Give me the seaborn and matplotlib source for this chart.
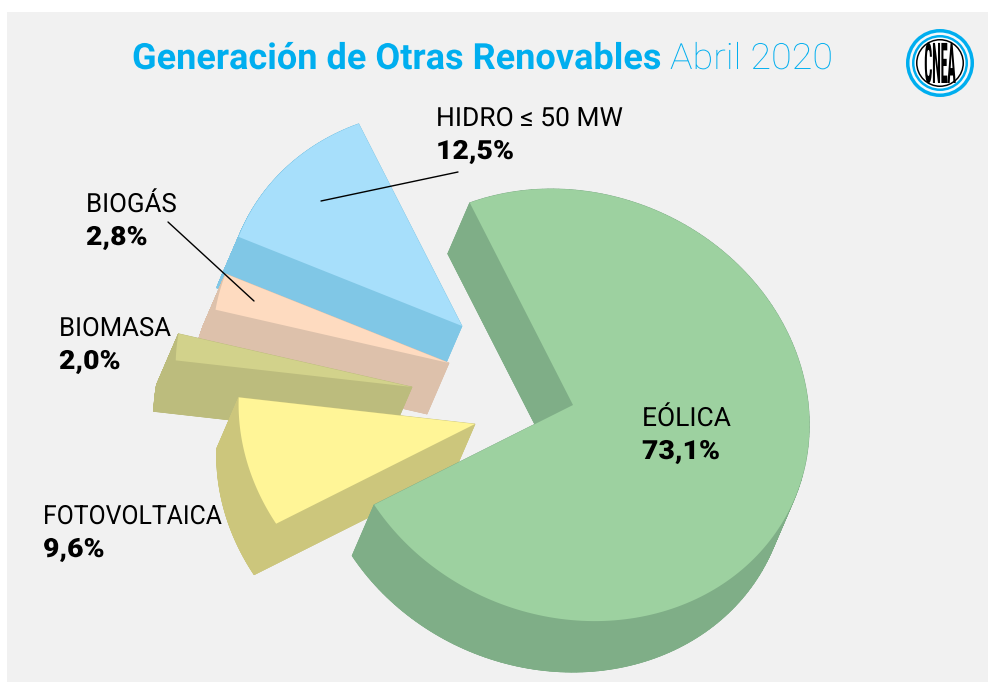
import numpy as np
import seaborn as sns
from matplotlib import pyplot as plt
from matplotlib import patheffects as pe
from matplotlib.patches import Rectangle, Circle
from matplotlib.transforms import Affine2D

# shares in the order they go round the pie, clockwise
sources = ['EÓLICA', 'FOTOVOLTAICA', 'BIOMASA', 'BIOGÁS', 'HIDRO ≤ 50 MW']
shares = [73.1, 9.6, 2.0, 2.8, 12.5]
share_labels = ['73,1%', '9,6%', '2,0%', '2,8%', '12,5%']

top_colors = ['#9dd1a0', '#fff597', '#d2d28b', '#fedbc0', '#a7dffb']
side_colors = ['#7fae87', '#ccc67c', '#bcbc7d', '#ddc1ab', '#80c7e6']

# layout of the exploded pie, in pixels of the picture
apex = [(573, 405), (475, 424), (412, 387), (449, 363), (462, 326)]
label_pos = [(642, 426), (43, 524), (59, 336), (86, 212), (436, 126)]
name_stretch = [1.0, 0.94, 0.975, 0.98, 1.0]
draw_order = [4, 3, 2, 1, 0]
start_angle = -22.5
rx, ry = 236, 216
skew_x, skew_y = 14, 7  # the ellipse of the pie is slightly turned
depth = (-22, 51)


class Stretch(pe.AbstractPathEffect):
    # DIN is not installed, so the text gets scaled to the widths of the original
    def __init__(self, cx, cy, fx, fy=1):
        self.cx, self.cy, self.fx, self.fy = cx, cy, fx, fy

    def draw_path(self, renderer, gc, tpath, affine, rgbFace=None):
        t = affine + Affine2D().translate(-self.cx, -self.cy).scale(self.fx, self.fy).translate(self.cx, self.cy)
        renderer.draw_path(gc, tpath, t, rgbFace)


def put_text(x, y, s, fx=1, fy=1, **kw):
    dx, dy = ax.transData.transform((x, y))
    return ax.text(x, y, s, va='baseline', path_effects=[Stretch(dx, dy, fx, fy)], **kw)


sns.set_theme(style='white')
plt.rcParams['font.family'] = ['Roboto', 'DejaVu Sans']

fig = plt.figure(figsize=(9.88, 6.82), dpi=100, facecolor='white')
ax = fig.add_axes([0, 0, 1, 1])
ax.set_xlim(0, 988)
ax.set_ylim(682, 0)
ax.axis('off')
ax.add_patch(Rectangle((7, 12), 981, 670, fc='#f1f1f1', ec='none', zorder=0))

# slices
edges = start_angle + np.cumsum([0] + shares) * 3.6
for z, i in enumerate(draw_order):
    a = np.radians(np.linspace(edges[i], edges[i + 1], 200))
    x = np.r_[apex[i][0], apex[i][0] + rx * np.sin(a) - skew_x * np.cos(a)]
    y = np.r_[apex[i][1], apex[i][1] - ry * np.cos(a) + skew_y * np.sin(a)]
    xs, ys = x + depth[0], y + depth[1]
    zo = 2 + z
    col = side_colors[i]
    ax.fill(xs, ys, color=col, lw=0.5, zorder=zo)
    for k in range(len(x)):
        n = (k + 1) % len(x)
        ax.fill([x[k], x[n], xs[n], xs[k]], [y[k], y[n], ys[n], ys[k]], color=col, lw=0.5, zorder=zo)
    ax.fill(x, y, color=top_colors[i], lw=0, zorder=zo)

# leader lines
ax.plot([321, 458], [201, 172], color='black', lw=1, zorder=10)
ax.plot([168, 254], [222, 301], color='black', lw=1, zorder=10)

# labels
for name, val, (lx, ly), fx in zip(sources, share_labels, label_pos, name_stretch):
    put_text(lx, ly, name, fx=fx, fontsize=19, color='black', zorder=11)
    put_text(lx, ly + 33, val, fx=1.075, fontsize=19, fontweight='black', color='black', zorder=11)

# title
put_text(132, 69, 'Generación de Otras Renovables', fontsize=26, fontweight='bold', color='#00aeef')
put_text(670, 69, 'Abril 2020', fx=1.045, fontsize=26, fontweight='light', color='#00aeef')

# logo
lx, ly = 940, 63
for r, c in [(34, '#00aeef'), (30.5, '#f4f8fa'), (28, '#00aeef'), (25.5, 'white'), (24, 'black'), (22.5, 'white')]:
    ax.add_patch(Circle((lx, ly), r, fc=c, ec='none', zorder=12))
put_text(lx, ly + 20, 'CNEA', fx=0.62, fy=2.9, fontsize=14, fontweight='black', color='black',
         ha='center', zorder=13)

plt.savefig('out.png', dpi=100)
